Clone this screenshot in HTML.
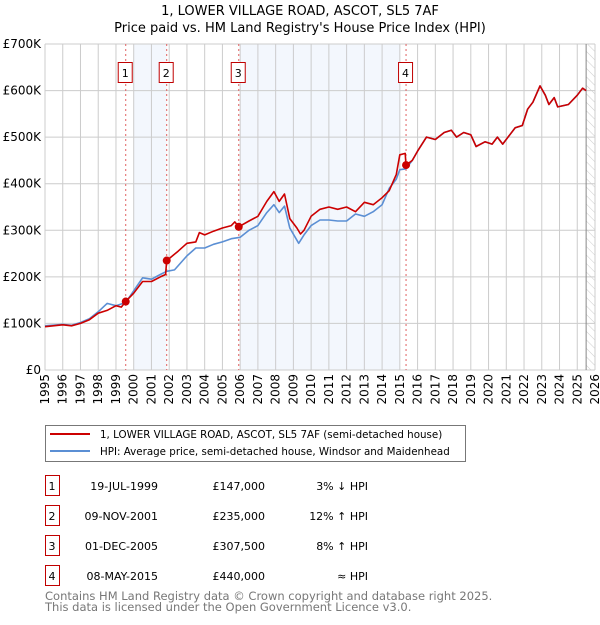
<!DOCTYPE html>
<html><head><meta charset="utf-8"><style>
body{margin:0;background:#fff;}
svg text{font-family:"DejaVu Sans","Liberation Sans",sans-serif;}
</style></head><body>
<svg id="c" width="600" height="620" xmlns="http://www.w3.org/2000/svg">
<defs><pattern id="hatch" width="6" height="6" patternUnits="userSpaceOnUse" patternTransform="rotate(-45)"><line x1="0" y1="0" x2="0" y2="6" stroke="#ccc" stroke-width="1"/></pattern></defs>
<text x="300" y="15" text-anchor="middle" font-size="13">1, LOWER VILLAGE ROAD, ASCOT, SL5 7AF</text>
<text x="300" y="32" text-anchor="middle" font-size="13">Price paid vs. HM Land Registry's House Price Index (HPI)</text>
<g id="plot"></g>
<g>
<rect x="45.5" y="425.5" width="420" height="36" fill="#fff" stroke="#777"/>
<line x1="50" y1="434" x2="90" y2="434" stroke="#cc0000" stroke-width="2"/>
<text x="100" y="438" font-size="10.3">1, LOWER VILLAGE ROAD, ASCOT, SL5 7AF (semi-detached house)</text>
<line x1="50" y1="451" x2="90" y2="451" stroke="#5b8fd4" stroke-width="2"/>
<text x="100" y="455" font-size="10.3">HPI: Average price, semi-detached house, Windsor and Maidenhead</text>
</g>
<g id="table" font-size="11"></g>
<text x="45" y="600" font-size="11.5" fill="#777">Contains HM Land Registry data © Crown copyright and database right 2025.</text>
<text x="45" y="611" font-size="11.5" fill="#777">This data is licensed under the Open Government Licence v3.0.</text>
</svg>
<script>
const hpiDates=[1995,1996,1996.5,1997,1997.5,1998,1998.5,1999,1999.55,2000,2000.5,2001,2001.5,2001.86,2002.3,2003,2003.5,2004,2004.5,2005,2005.5,2006,2006.5,2007,2007.5,2007.9,2008.2,2008.5,2008.8,2009.3,2009.6,2010,2010.5,2011,2011.5,2012,2012.5,2013,2013.5,2014,2014.4,2014.8,2015,2015.35,2015.7,2016,2016.5,2017,2017.5,2017.9,2018.2,2018.6,2019,2019.3,2019.8,2020.2,2020.5,2020.8,2021.2,2021.5,2021.9,2022.2,2022.5,2022.9,2023.2,2023.4,2023.7,2023.9,2024.5,2025,2025.3,2025.5];
const hpiValues=[95,98,96,102,110,125,143,138,145,170,198,195,205,212,215,245,262,262,270,275,282,285,300,310,338,355,338,352,305,272,290,310,322,322,320,320,335,330,340,355,390,410,430,432,450,470,500,495,510,515,500,510,505,480,490,485,500,485,505,520,525,560,575,610,590,570,585,565,570,590,605,600];
const propDates=[1995,1996,1996.5,1997,1997.5,1998,1998.5,1999,1999.3,1999.55,2000,2000.5,2001,2001.5,2001.8,2001.86,2002.5,2003,2003.5,2003.7,2004,2004.5,2005,2005.5,2005.7,2005.92,2006.5,2007,2007.5,2007.9,2008.2,2008.5,2008.8,2009.2,2009.4,2009.6,2010,2010.5,2011,2011.5,2012,2012.5,2013,2013.5,2014,2014.4,2014.8,2015,2015.3,2015.35,2015.7,2016,2016.5,2017,2017.5,2017.9,2018.2,2018.6,2019,2019.3,2019.8,2020.2,2020.5,2020.8,2021.2,2021.5,2021.9,2022.2,2022.5,2022.9,2023.2,2023.4,2023.7,2023.9,2024.5,2025,2025.3,2025.5];
const propValues=[93,97,95,100,108,122,128,138,135,147,165,190,190,200,205,235,255,272,275,295,290,298,305,310,318,307.5,320,330,362,383,362,378,325,305,292,300,330,345,350,345,350,340,360,355,370,385,420,462,465,440,450,470,500,495,510,515,500,510,505,480,490,485,500,485,505,520,525,560,575,610,590,570,585,565,570,590,605,600];
const saleDates=[1999.55,2001.86,2005.92,2015.35];
const saleValues=[147,235,307.5,440];
const saleLabels=["1","2","3","4"];
const saleDateText=["19-JUL-1999","09-NOV-2001","01-DEC-2005","08-MAY-2015"];
const salePriceText=["£147,000","£235,000","£307,500","£440,000"];
const saleHpiText=["3% ↓ HPI","12% ↑ HPI","8% ↑ HPI","≈ HPI"];
const yTicks=[0,100,200,300,400,500,600,700];
const yTickLabels=["£0","£100K","£200K","£300K","£400K","£500K","£600K","£700K"];
const shadeFrom=[2000,2006];
const shadeTo=[2001.86,2015];

const NS="http://www.w3.org/2000/svg";
const X0=45,X1=595,Y0=370,Y1=44;
const xs=y=>X0+(y-1995)*(X1-X0)/31;
const ys=v=>Y0-v*(Y0-Y1)/700;
function mk(tag,attrs,parent){const e=document.createElementNS(NS,tag);for(const k in attrs)e.setAttribute(k,attrs[k]);parent.appendChild(e);return e;}
const P=document.getElementById('plot');
for(let i=0;i<shadeFrom.length;i++){
 const r=mk('rect',{x:xs(shadeFrom[i]),y:Y1,width:xs(shadeTo[i])-xs(shadeFrom[i]),height:Y0-Y1,fill:'#eef3fc',opacity:0.7},P);
 
 
}
const h=mk('rect',{x:xs(2025.5),y:Y1,width:X1-xs(2025.5),height:Y0-Y1,fill:'url(#hatch)'},P);


for(let yr=1995;yr<=2026;yr++){
 const x=xs(yr);
 const l=mk('line',{x1:x,y1:Y1,x2:x,y2:Y0,stroke:'#ccc','stroke-width':1},P);
 
 
 const t=mk('text',{x:0,y:0,'font-size':12,'text-anchor':'end',transform:`translate(${x+4},${Y0+4}) rotate(-90)`},P);
 t.textContent=yr;
 
 
}
yTicks.forEach((v,i)=>{
 const y=ys(v);
 const l=mk('line',{x1:X0,y1:y,x2:X1,y2:y,stroke:'#ccc','stroke-width':1},P);
 
 
 const t=mk('text',{x:X0-4,y:y+4,'font-size':12,'text-anchor':'end'},P);
 t.textContent=yTickLabels[i];
 
 
});
const ax=mk('line',{x1:xs(2025.5),y1:Y1,x2:xs(2025.5),y2:Y0,stroke:'#888','stroke-width':1},P);


saleDates.forEach((d,i)=>{
 const x=xs(d);
 const l=mk('line',{x1:x,y1:Y1,x2:x,y2:Y0,stroke:'#e06060','stroke-width':1,'stroke-dasharray':'2,3'},P);
 
 
 const r=mk('rect',{x:x-7.5,y:62.5,width:14,height:20,fill:'#fff',stroke:'#c00000'},P);
 
 
 const t=mk('text',{x:x-0.5,y:77,'font-size':11,'text-anchor':'middle'},P);
 t.textContent=saleLabels[i];
 
 
});
function line(dates,vals,color,name){
 const d=dates.map((t,i)=>(i?'L':'M')+xs(t).toFixed(1)+','+ys(vals[i]).toFixed(1)).join('');
 const p=mk('path',{d:d,fill:'none',stroke:color,'stroke-width':1.6,'stroke-linejoin':'round'},P);
 
 
}
line(hpiDates,hpiValues,'#5b8fd4','hpi-line');
line(propDates,propValues,'#cc0000','property-line');
saleDates.forEach((d,i)=>{
 const c=mk('circle',{cx:xs(d),cy:ys(saleValues[i]),r:4,fill:'#cc0000'},P);
 
 
});
const T=document.getElementById('table');
saleLabels.forEach((lab,i)=>{
 const y=475+i*30;
 const r=mk('rect',{x:45.5,y:y+0.5,width:14,height:20,fill:'#fff',stroke:'#c00000'},T);
 
 
 const cells=[[52,'middle',lab],[158,'end',saleDateText[i]],[265,'end',salePriceText[i]],[368,'end',saleHpiText[i]]];
 cells.forEach(c=>{
  const t=mk('text',{x:c[0],y:y+15,'text-anchor':c[1]},T);
  t.textContent=c[2];
  
  
 });
});
</script>
</body></html>
